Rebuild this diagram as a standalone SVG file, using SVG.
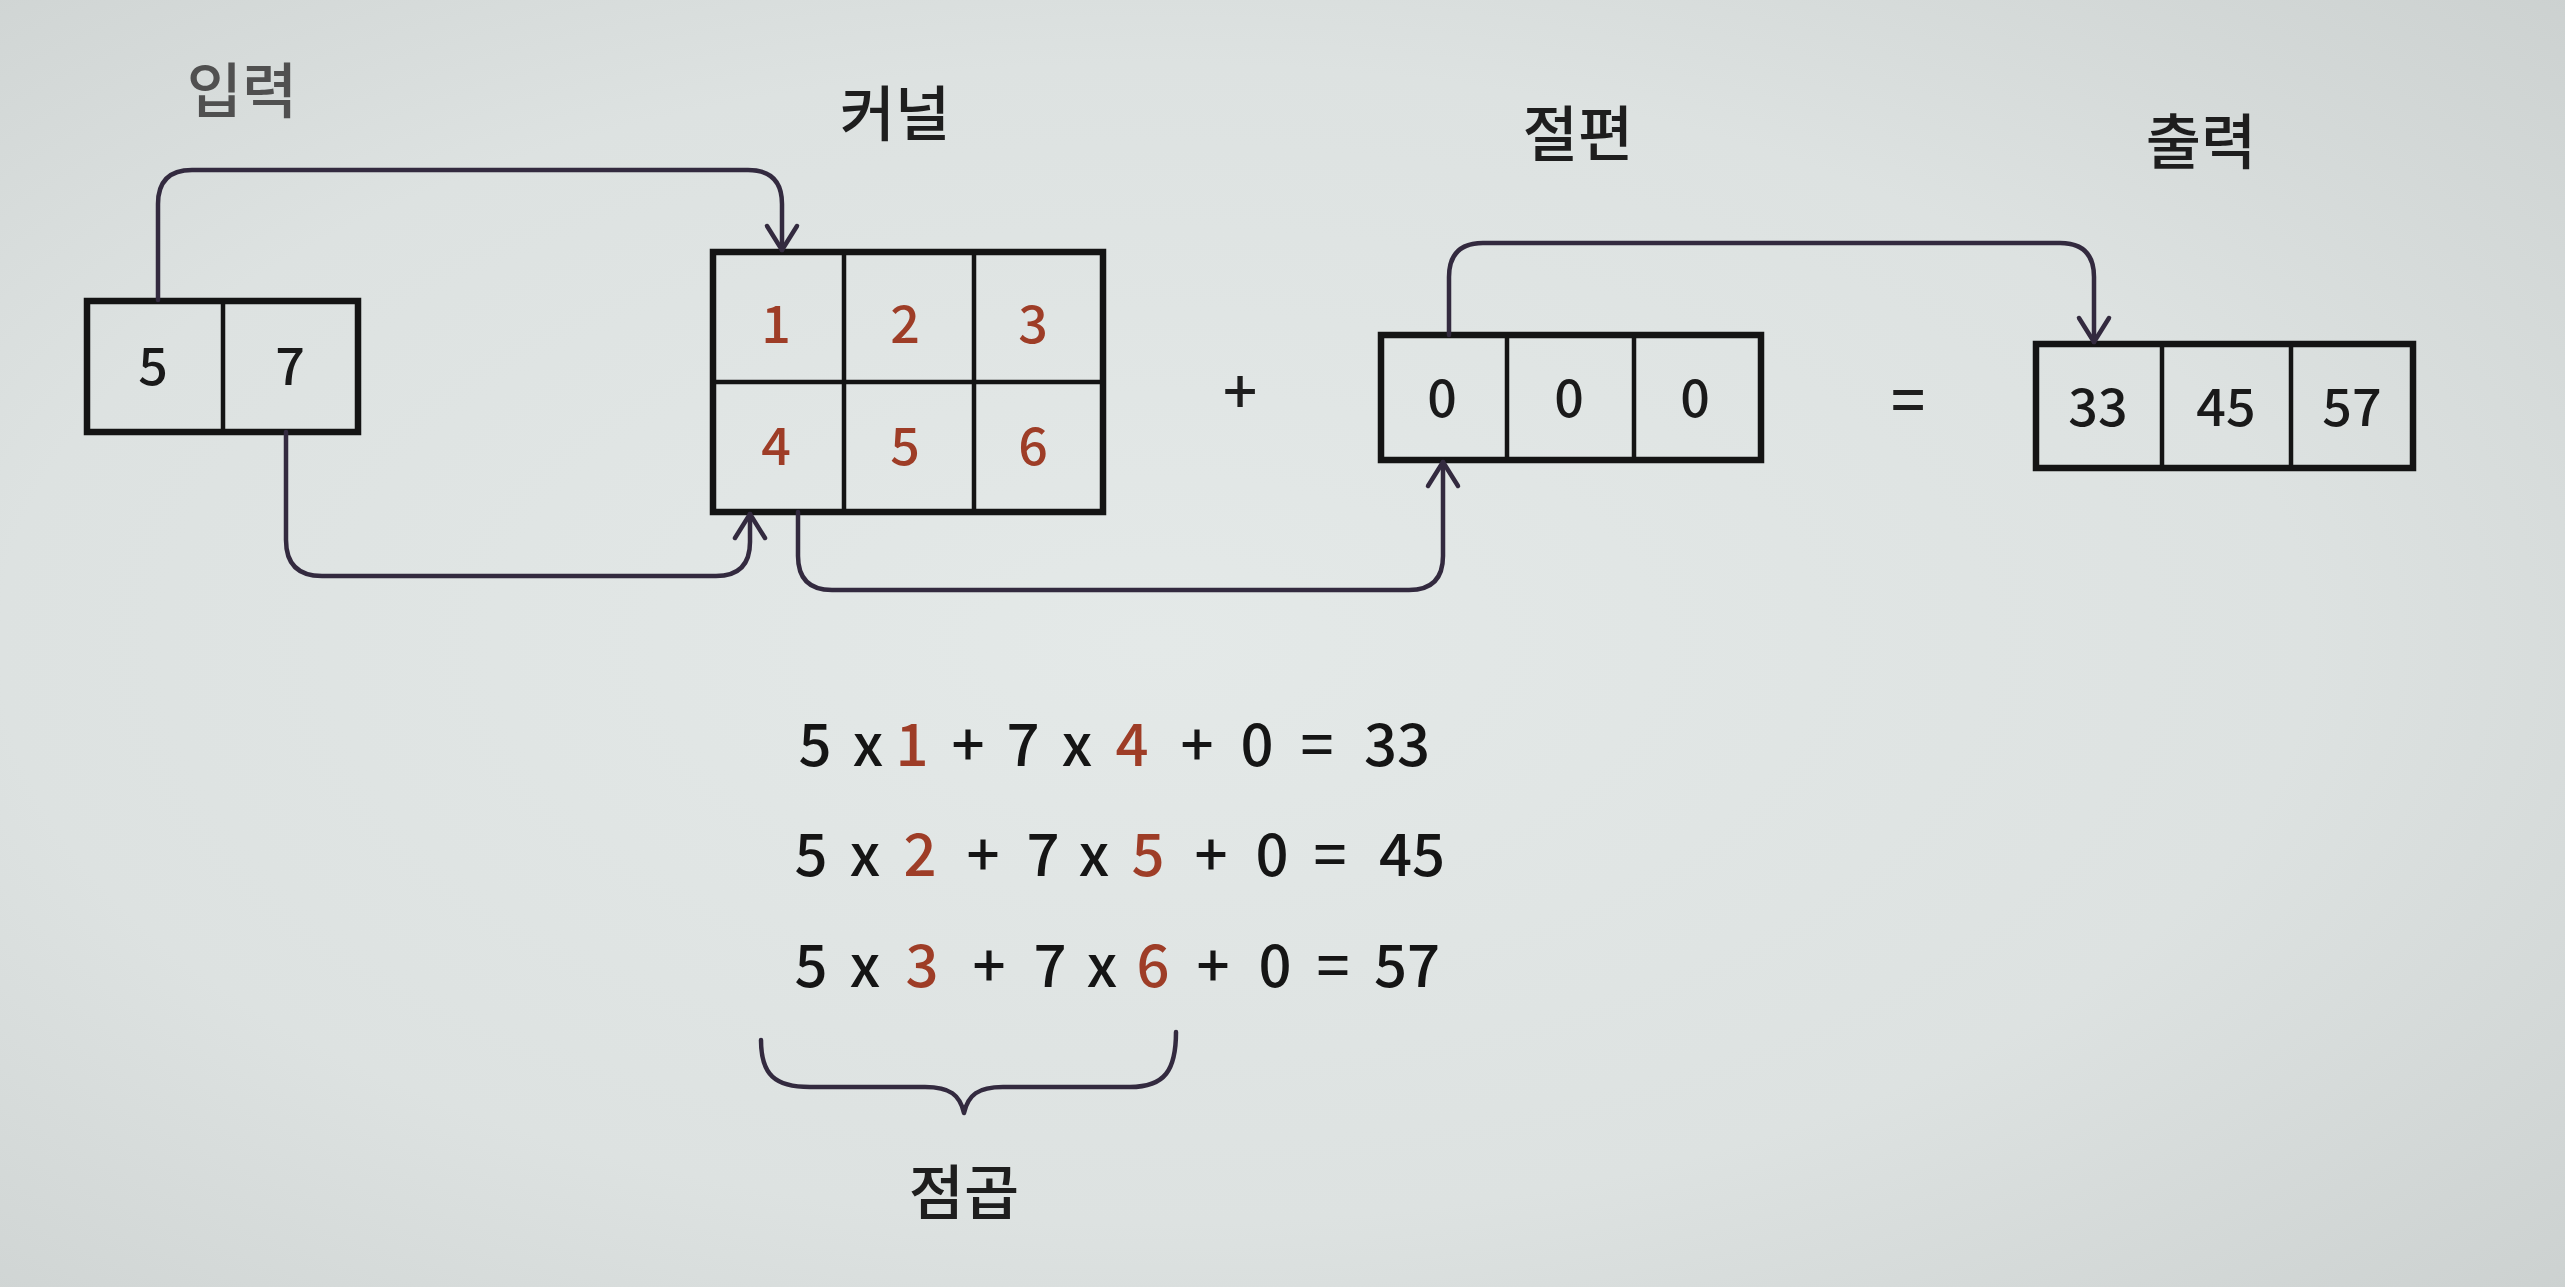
<svg xmlns="http://www.w3.org/2000/svg" width="2565" height="1287" viewBox="0 0 2565 1287">
<defs>
<radialGradient id="bg" cx="0.45" cy="0.5" r="0.75">
<stop offset="0" stop-color="#e4e9e8"/>
<stop offset="0.6" stop-color="#dde2e1"/>
<stop offset="1" stop-color="#ccd1d0"/>
</radialGradient>
<marker id="arr" markerUnits="userSpaceOnUse" markerWidth="40" markerHeight="40" viewBox="0 0 40 40" refX="30" refY="20" orient="auto">
<path d="M6,5 L30,20 L6,35" fill="none" stroke="#332a3f" stroke-width="4.5" stroke-linecap="round" stroke-linejoin="round"/>
</marker>
</defs>
<style>
.box{fill:none;stroke:#141414;stroke-width:6.5}
.div{stroke:#141414;stroke-width:4.5}
.num{font-family:"Noto Sans CJK KR","Noto Sans",sans-serif;font-size:52px;font-weight:500;fill:#1a1a1a;text-anchor:middle}
.red{fill:#9e3d27}
.lbl{font-family:"Noto Sans CJK KR","Noto Sans",sans-serif;font-size:60px;font-weight:500;fill:#1e1e1e;text-anchor:middle}
.eq{font-family:"Noto Sans CJK KR","Noto Sans",sans-serif;font-size:58px;font-weight:500;fill:#151515;text-anchor:middle}
.con{fill:none;stroke:#332a3f;stroke-width:4.5;stroke-linecap:round;stroke-linejoin:round}
</style>
<rect x="0" y="0" width="2565" height="1287" fill="url(#bg)"/>

<g id="input">
<text class="lbl" x="242" y="113" style="fill:#505050">입력</text>
<rect class="box" x="87" y="301" width="271" height="131"/>
<line class="div" x1="223" y1="301" x2="223" y2="432"/>
<text class="num" x="153" y="385">5</text>
<text class="num" x="290" y="385">7</text>
</g>

<g id="kernel">
<text class="lbl" x="895" y="136">커널</text>
<rect class="box" x="713" y="252" width="390" height="260"/>
<line class="div" x1="713" y1="382" x2="1103" y2="382"/>
<line class="div" x1="844" y1="252" x2="844" y2="512"/>
<line class="div" x1="974" y1="252" x2="974" y2="512"/>
<text class="num red" x="776" y="343">1</text>
<text class="num red" x="905" y="343">2</text>
<text class="num red" x="1033" y="343">3</text>
<text class="num red" x="776" y="465">4</text>
<text class="num red" x="905" y="465">5</text>
<text class="num red" x="1033" y="465">6</text>
</g>

<g id="plus">
<text class="lbl" x="1240" y="414">+</text>
</g>

<g id="bias">
<text class="lbl" x="1578" y="156">절편</text>
<rect class="box" x="1381" y="335" width="380" height="125"/>
<line class="div" x1="1507" y1="335" x2="1507" y2="460"/>
<line class="div" x1="1634" y1="335" x2="1634" y2="460"/>
<text class="num" x="1442" y="417">0</text>
<text class="num" x="1569" y="417">0</text>
<text class="num" x="1695" y="417">0</text>
</g>

<g id="equals">
<text class="lbl" x="1908" y="422">=</text>
</g>

<g id="output">
<text class="lbl" x="2201" y="164">출력</text>
<rect class="box" x="2036" y="344" width="377" height="124"/>
<line class="div" x1="2162" y1="344" x2="2162" y2="468"/>
<line class="div" x1="2291" y1="344" x2="2291" y2="468"/>
<text class="num" x="2098" y="426">33</text>
<text class="num" x="2226" y="426">45</text>
<text class="num" x="2352" y="426">57</text>
</g>

<g id="connectors">
<path class="con" d="M158,300 V204 Q158,170 192,170 H748 Q782,170 782,204 V250" marker-end="url(#arr)"/>
<path class="con" d="M286,432 V540 Q286,576 322,576 H716 Q750,576 750,542 V514" marker-end="url(#arr)"/>
<path class="con" d="M798,512 V556 Q798,590 832,590 H1409 Q1443,590 1443,556 V462" marker-end="url(#arr)"/>
<path class="con" d="M1449,335 V277 Q1449,243 1483,243 H2060 Q2094,243 2094,277 V342" marker-end="url(#arr)"/>
</g>

<g id="equations">
<text class="eq" y="766"><tspan x="815">5</tspan><tspan x="868">x</tspan><tspan x="912" class="red">1</tspan><tspan x="968">+</tspan><tspan x="1023">7</tspan><tspan x="1077">x</tspan><tspan x="1132" class="red">4</tspan><tspan x="1197">+</tspan><tspan x="1257">0</tspan><tspan x="1317">=</tspan><tspan x="1397">33</tspan></text>
<text class="eq" y="876"><tspan x="811">5</tspan><tspan x="865">x</tspan><tspan x="920" class="red">2</tspan><tspan x="983">+</tspan><tspan x="1043">7</tspan><tspan x="1094">x</tspan><tspan x="1148" class="red">5</tspan><tspan x="1211">+</tspan><tspan x="1272">0</tspan><tspan x="1330">=</tspan><tspan x="1412">45</tspan></text>
<text class="eq" y="987"><tspan x="811">5</tspan><tspan x="865">x</tspan><tspan x="922" class="red">3</tspan><tspan x="989">+</tspan><tspan x="1050">7</tspan><tspan x="1102">x</tspan><tspan x="1153" class="red">6</tspan><tspan x="1213">+</tspan><tspan x="1275">0</tspan><tspan x="1333">=</tspan><tspan x="1407">57</tspan></text>
</g>

<g id="dot-product">
<path class="con" d="M761,1040 C761,1075 775,1087 810,1087 H925 C950,1087 960,1095 964,1113 C968,1095 978,1087 1003,1087 H1130 C1165,1087 1176,1070 1176,1032"/>
<text class="lbl" x="964" y="1215">점곱</text>
</g>
</svg>
